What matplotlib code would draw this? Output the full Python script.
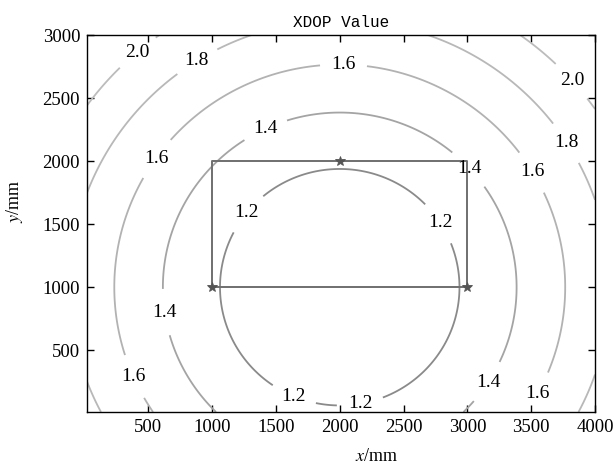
import numpy as np
import matplotlib
matplotlib.use("Agg")
import matplotlib.pyplot as plt

# Base stations (mm)
anchor_x = [1000, 2000, 3000]
anchor_y = [1000, 2000, 1000]

# Positioning area outline (mm)
area_x = [1000, 3000, 3000, 1000, 1000]
area_y = [1000, 1000, 2000, 2000, 1000]

# Contour levels of XDOP
levels = [1.2, 1.4, 1.6, 1.8, 2.0]

# Where the contour labels sit (mm)
label_pos = [
    (414, 2865), (883, 2791), (2029, 2730), (3722, 2548),
    (1412, 2263), (558, 2025), (3696, 2092), (2966, 1894),
    (3422, 1859), (1261, 1598), (2732, 1477), (609, 798),
    (375, 284), (3123, 271), (3500, 184), (1625, 104), (2159, 86),
]

tick_vals = [500, 1000, 1500, 2000, 2500, 3000, 3500, 4000]
ytick_vals = [500, 1000, 1500, 2000, 2500, 3000]


def circumcenter(xs, ys):
    (ax, bx, cx), (ay, by, cy) = xs, ys
    d = 2 * (ax * (by - cy) + bx * (cy - ay) + cx * (ay - by))
    ux = ((ax**2 + ay**2) * (by - cy) + (bx**2 + by**2) * (cy - ay)
          + (cx**2 + cy**2) * (ay - by)) / d
    uy = ((ax**2 + ay**2) * (cx - bx) + (bx**2 + by**2) * (ax - cx)
          + (cx**2 + cy**2) * (bx - ax)) / d
    return ux, uy, np.hypot(ax - ux, ay - uy)


# XDOP of the linearised ranging solution over the working area
cx0, cy0, R = circumcenter(anchor_x, anchor_y)
gx = np.linspace(20, 4000, 400)
gy = np.linspace(10, 3000, 300)
X, Y = np.meshgrid(gx, gy)
r2 = ((X - cx0) ** 2 + (Y - cy0) ** 2) / R**2
XDOP = np.sqrt(1.0 + 0.5 * r2)

plt.rcParams["mathtext.fontset"] = "stix"
fig = plt.figure(figsize=(6.15, 4.67), dpi=100)
ax = fig.add_axes([0.1415, 0.1178, 0.826, 0.807])

greys = ["#8a8a8a", "#a4a4a4", "#b2b2b2", "#b8b8b8", "#bcbcbc"]
cs = ax.contour(X, Y, XDOP, levels=levels, colors=greys, linewidths=1.3)
lbls = ax.clabel(cs, fmt="%.1f", manual=label_pos, inline=True,
                 inline_spacing=8, fontsize=14, colors="black")
for t in lbls:
    t.set_family("Liberation Serif")
    t.set_rotation(0)

ax.plot(area_x, area_y, color="#6f6f6f", lw=1.4)
ax.plot(anchor_x, anchor_y, ls="none", marker="*", ms=7, color="#555555",
        markeredgewidth=0.6)

ax.set_xlim(20, 4000)
ax.set_ylim(10, 3000)
ax.set_xticks(tick_vals)
ax.set_yticks(ytick_vals)
ax.tick_params(direction="in", length=5, width=1, labelsize=13.5, pad=5,
               top=True, right=True, labeltop=False, labelright=False)
for lab in ax.get_xticklabels() + ax.get_yticklabels():
    lab.set_family("Liberation Serif")
for s in ax.spines.values():
    s.set_linewidth(1.0)

ax.set_xlabel(r"$x$/mm", fontsize=13, family="Liberation Serif")
ax.set_ylabel(r"$y$/mm", fontsize=13, family="Liberation Serif")
ax.xaxis.set_label_coords(0.57, -0.095)
ax.yaxis.set_label_coords(-0.122, 0.56)
ax.set_title("XDOP Value", fontsize=11.5, family="Liberation Mono", pad=6)

fig.savefig("out.png", dpi=100)
